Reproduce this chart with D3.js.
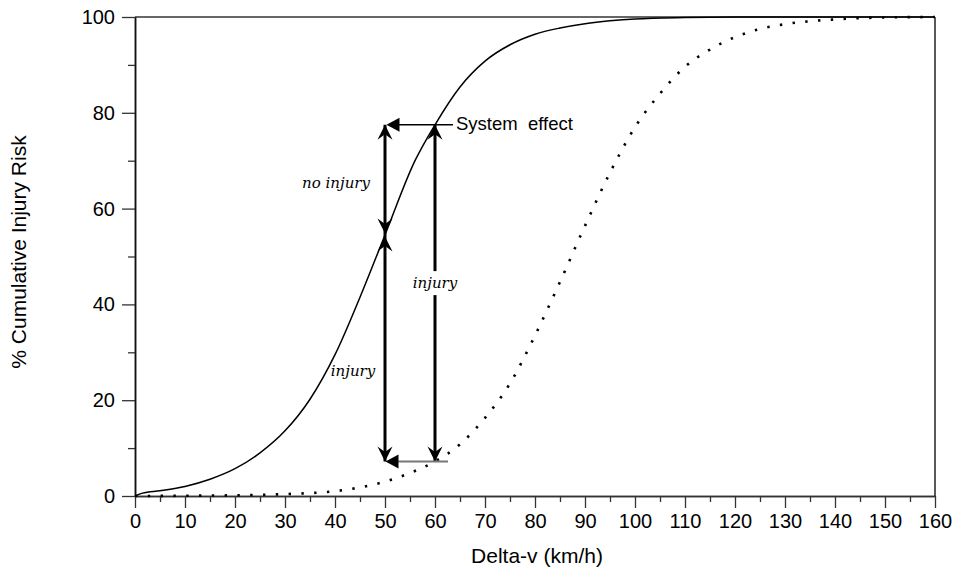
<!DOCTYPE html>
<html>
<head>
<meta charset="utf-8">
<script src="https://cdn.jsdelivr.net/npm/d3@7"></script>
<style>
  html, body { margin: 0; padding: 0; background: #fff; }
  svg { display: block; }
</style>
</head>
<body>
<svg id="chart" width="955" height="572"></svg>
<script>
// ---- data ----
const solidX = [0, 1.5, 5, 10, 15, 20, 25, 30, 35, 40, 45, 50, 56, 60, 65, 70, 75, 80, 85, 90, 95, 100, 110, 120, 160];
const solidY = [0, 0.6, 1.1, 2.0, 3.5, 5.7, 9.0, 13.6, 20.2, 29.5, 41.5, 54.5, 70, 77.5, 85.4, 90.8, 94.2, 96.4, 97.7, 98.6, 99.2, 99.6, 99.9, 100, 100];
const dottedX = [0, 10, 20, 30, 40, 45, 50, 55, 60, 65, 70, 75, 80, 85, 90, 95, 100, 105, 110, 115, 120, 125, 130, 140, 150, 160];
const dottedY = [0, 0.05, 0.15, 0.4, 1.0, 1.8, 3.0, 4.8, 7.2, 10.8, 16.3, 23.5, 33.5, 44.7, 56.4, 67.5, 77, 84, 89.6, 93.2, 95.8, 97.5, 98.5, 99.5, 99.9, 100];
const xMajorTicks = [0, 10, 20, 30, 40, 50, 60, 70, 80, 90, 100, 110, 120, 130, 140, 150, 160];
const xMinorTicks = [5, 15, 25, 35, 45, 55, 65, 75, 85, 95, 105, 115, 125, 135, 145, 155];
const yMajorTicks = [0, 20, 40, 60, 80, 100];
const yMinorTicks = [10, 30, 50, 70, 90];
// annotation values (data units)
const arrowXs = [50, 60];          // delta-v of the vertical arrows
const riskWithout = 77.5;          // risk level at 60 km/h
const riskAt50 = 54.5;             // risk level at 50 km/h
const riskWith = 7.2;              // risk with system at 60 km/h
const effectStartX = 63.6;         // start of "System effect" arrow
const lowerStartX = 62.6;          // start of lower horizontal arrow
const labelTexts = ["no injury", "injury", "injury", "System  effect"];
const labelXs = [40.2, 60, 43.6, 64.2];
const labelYs = [64.3, 43.4, 25.0, 76.4];
const xTitle = "Delta-v (km/h)";
const yTitle = "% Cumulative Injury Risk";

// ---- chart ----
const SANS = '"Liberation Sans", Arial, sans-serif';
const SERIF = '"DejaVu Serif", serif';
const svg = d3.select("#chart");
const x = d3.scaleLinear().domain([0, 160]).range([135, 935]);
const y = d3.scaleLinear().domain([0, 100]).range([496, 17]);

// frame (top and right)
svg.append("line").attr("x1", x(0)).attr("x2", x(160)).attr("y1", y(100)).attr("y2", y(100))
  .attr("stroke", "#333").attr("stroke-width", 1.5);
svg.append("line").attr("x1", x(160)).attr("x2", x(160)).attr("y1", y(100)).attr("y2", y(0))
  .attr("stroke", "#222").attr("stroke-width", 1.5);

function styleAxis(g) {
  g.select(".domain").attr("stroke", "#333").attr("stroke-width", 1.5);
  g.selectAll(".tick line").attr("stroke", "#333").attr("stroke-width", 1.3);
  g.selectAll(".tick text").style("font-size", "20px").style("font-family", SANS).attr("fill", "#000");
}

// x axis
const gx = svg.append("g").attr("transform", `translate(0,${y(0)})`)
  .call(d3.axisBottom(x).tickValues(xMajorTicks).tickFormat(d3.format("d")).tickSize(12).tickSizeOuter(0).tickPadding(6));
styleAxis(gx);
const gxm = svg.append("g").attr("transform", `translate(0,${y(0)})`)
  .call(d3.axisBottom(x).tickValues(xMinorTicks).tickFormat("").tickSize(6).tickSizeOuter(0));
styleAxis(gxm);

// y axis
const gy = svg.append("g").attr("transform", `translate(${x(0)},0)`)
  .call(d3.axisLeft(y).tickValues(yMajorTicks).tickFormat(d3.format("d")).tickSize(13).tickSizeOuter(0).tickPadding(7));
styleAxis(gy);
gy.select(".domain").attr("stroke", "#111");
const gym = svg.append("g").attr("transform", `translate(${x(0)},0)`)
  .call(d3.axisLeft(y).tickValues(yMinorTicks).tickFormat("").tickSize(7).tickSizeOuter(0));
styleAxis(gym);
gym.select(".domain").attr("stroke", "#111");

// axis titles
svg.append("text").attr("x", 537).attr("y", 563).attr("text-anchor", "middle")
  .style("font-family", SANS).style("font-size", "21px").text(xTitle);
svg.append("text").attr("transform", "translate(26,252) rotate(-90)").attr("text-anchor", "middle")
  .style("font-family", SANS).style("font-size", "21px").text(yTitle);

// curves
const line = d3.line().x(d => x(d[0])).y(d => y(d[1])).curve(d3.curveMonotoneX);
svg.append("path").datum(solidX.map((v, i) => [v, solidY[i]]))
  .attr("d", line).attr("fill", "none").attr("stroke", "#000").attr("stroke-width", 1.5);
svg.append("path").datum(dottedX.map((v, i) => [v, dottedY[i]]))
  .attr("d", line).attr("fill", "none").attr("stroke", "#000").attr("stroke-width", 2.6)
  .attr("stroke-dasharray", "2.4 10.4");

// arrows
const headUp = "M0,0 L7.5,15 L0,9.5 L-7.5,15 Z";
function vHead(xv, yv, dir) {
  svg.append("path").attr("d", headUp)
    .attr("transform", `translate(${x(xv)},${y(yv)}) rotate(${dir === "up" ? 0 : 180})`)
    .attr("fill", "#000");
}
function vLine(xv, y1, y2) {
  svg.append("line").attr("x1", x(xv)).attr("x2", x(xv))
    .attr("y1", y(y1)).attr("y2", y(y2)).attr("stroke", "#000").attr("stroke-width", 3);
}
// at 50 km/h: two segments
vLine(arrowXs[0], riskWithout, riskAt50);
vLine(arrowXs[0], riskAt50, riskWith);
vHead(arrowXs[0], riskWithout, "up");
vHead(arrowXs[0], riskAt50 + 0.3, "down");
vHead(arrowXs[0], riskAt50 - 0.3, "up");
vHead(arrowXs[0], riskWith, "down");
// at 60 km/h
vLine(arrowXs[1], riskWithout, riskWith);
vHead(arrowXs[1], riskWithout, "up");
vHead(arrowXs[1], riskWith, "down");

// horizontal arrows
const headLeft = "M0,0 L13,-7 L13,7 Z";
svg.append("line").attr("x1", x(effectStartX)).attr("x2", x(arrowXs[0]) + 10)
  .attr("y1", y(riskWithout)).attr("y2", y(riskWithout)).attr("stroke", "#000").attr("stroke-width", 1.5);
svg.append("path").attr("d", headLeft)
  .attr("transform", `translate(${x(arrowXs[0]) + 1.5},${y(riskWithout)})`).attr("fill", "#000");
svg.append("line").attr("x1", x(lowerStartX)).attr("x2", x(arrowXs[0]) + 10)
  .attr("y1", y(riskWith)).attr("y2", y(riskWith)).attr("stroke", "#777").attr("stroke-width", 2);
svg.append("path").attr("d", headLeft)
  .attr("transform", `translate(${x(arrowXs[0]) + 0.5},${y(riskWith)})`).attr("fill", "#000");

// labels
labelTexts.forEach((t, i) => {
  const isSys = i === 3;
  const txt = svg.append("text")
    .attr("x", x(labelXs[i])).attr("y", y(labelYs[i]))
    .attr("text-anchor", isSys ? "start" : "middle")
    .attr("fill", "#000")
    .style("white-space", "pre")
    .text(t);
  if (isSys) {
    txt.style("font-family", SANS).style("font-size", "18.5px");
  } else {
    txt.style("font-family", SERIF).style("font-style", "italic").style("font-size", "15px");
    if (i === 1) {
      const bb = txt.node().getBBox();
      svg.insert("rect", () => txt.node())
        .attr("x", bb.x - 2).attr("y", bb.y - 3).attr("width", bb.width + 4).attr("height", bb.height + 6)
        .attr("fill", "#fff");
    }
  }
});
</script>
</body>
</html>
